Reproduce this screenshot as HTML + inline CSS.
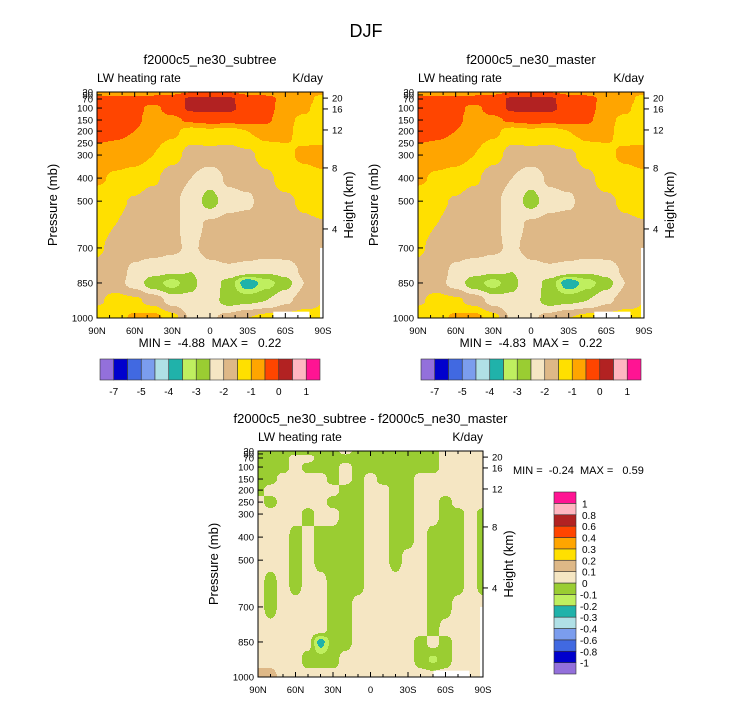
<!DOCTYPE html>
<html><head><meta charset="utf-8"><style>
body{margin:0;background:#fff;}
svg text{font-family:"Liberation Sans",sans-serif;fill:#000;white-space:pre;}
</style></head><body>
<svg id="svg" width="733" height="701" viewBox="0 0 733 701" xmlns="http://www.w3.org/2000/svg">
<rect width="733" height="701" fill="#fff"/>
<text x="366" y="37" font-size="18" text-anchor="middle">DJF</text>
</svg>
<script>
// ---- data ----
const lats13 = [90,75,60,45,30,15,0,-15,-30,-45,-60,-75,-90];
const levelsTop = [30,70,100,150,200,300,400,500,600,700,800,850,925,1000];
const subtreeField = [
[-0.7,-0.7,-0.7,-0.7,-0.6,-0.5,-0.5,-0.5,-0.6,-0.7,-0.7,-0.8,-0.9],
[-0.3,-0.3,-0.3,-0.3,-0.3,0.1,0.15,0.1,-0.3,-0.3,-0.7,-0.8,-1.2],
[-0.3,-0.3,-0.4,-0.6,-0.3,0.1,0.1,0.1,-0.2,-0.3,-0.8,-0.9,-1.3],
[-0.3,-0.3,-0.4,-0.7,-0.6,-0.4,-0.3,-0.3,-0.3,-0.4,-0.9,-1.1,-1.2],
[-0.3,-0.4,-0.5,-0.8,-0.9,-1.2,-1.1,-1.2,-1.0,-0.8,-0.9,-1.2,-1.3],
[-0.7,-0.7,-0.8,-1.0,-1.3,-1.7,-1.7,-1.7,-1.6,-1.3,-1.1,-0.9,-0.8],
[-0.9,-1.1,-1.2,-1.4,-1.8,-2.0,-2.3,-1.9,-1.8,-1.6,-1.3,-1.2,-1.1],
[-1.3,-1.4,-1.55,-1.8,-1.9,-2.2,-2.7,-2.2,-2.1,-1.7,-1.6,-1.4,-1.2],
[-1.4,-1.5,-1.7,-1.8,-1.9,-2.2,-1.9,-1.8,-1.8,-1.7,-1.7,-1.6,-1.55],
[-1.45,-1.6,-1.8,-1.8,-1.9,-2.1,-1.8,-1.7,-1.7,-1.7,-1.7,-1.7,-1.6],
[-1.6,-1.8,-2.1,-2.3,-2.4,-2.5,-2.2,-2.1,-2.2,-2.4,-2.3,-1.9,-1.7],
[-1.7,-1.8,-2.2,-2.8,-3.2,-2.6,-2.2,-2.7,-3.9,-3.2,-2.7,-2.0,-1.7],
[-1.6,-1.3,-1.4,-1.7,-2.2,-2.4,-2.3,-2.7,-2.6,-2.5,-2.1,-1.8,-1.5],
[-1.1,-1.2,-0.9,-0.8,-1.3,-2.1,-2.1,-1.8,-1.5,-1.3,-1.3,-1.2,-1.4]];
const masterField = subtreeField;
const topBounds = [-7,-6,-5,-4.5,-4,-3.5,-3,-2.5,-2,-1.5,-1,-0.5,0,0.5,1];
const topBarLabels = ["-7","","-5","","-4","","-3","","-2","","-1","","0","","1"];
const lats19 = [90,80,70,60,50,40,30,20,10,0,-10,-20,-30,-40,-50,-60,-70,-80,-90];
const levelsDiff = [30,70,100,150,200,250,300,400,500,600,700,800,850,925,1000];
const G=-0.05, W=0.05;
const diffField = [
[G,G,G,G,G,G,G,W,G,G,G,G,G,G,G,W,W,W,W],
[G,G,G,W,W,G,G,G,G,G,G,G,G,G,G,W,W,W,W],
[G,G,G,W,G,G,G,W,G,G,G,G,G,G,G,W,W,W,W],
[G,G,W,W,W,W,G,W,G,W,G,G,G,W,W,W,W,W,W],
[G,W,W,W,W,W,W,G,G,W,W,G,G,W,W,W,W,W,W],
[W,G,W,W,W,W,G,G,G,W,W,G,G,W,W,G,W,W,W],
[W,W,W,W,G,W,W,G,G,W,W,G,G,W,W,G,G,W,G],
[W,W,W,G,W,G,G,G,G,W,W,G,G,W,G,G,G,W,G],
[W,W,W,G,W,G,G,G,G,W,W,G,W,W,G,G,G,W,G],
[W,G,W,G,W,W,G,G,G,W,W,W,W,W,G,G,G,W,G],
[W,G,W,W,W,W,G,G,W,W,W,W,W,W,G,G,W,W,W],
[W,W,W,W,W,W,G,G,W,W,W,W,W,W,G,W,W,W,W],
[W,W,W,W,W,-0.25,G,G,W,W,W,W,W,G,W,G,W,W,W],
[W,W,W,W,G,G,G,W,W,W,W,W,W,G,-0.12,G,W,W,W],
[0.15,0.15,W,W,W,W,W,W,W,W,W,W,W,W,W,W,W,W,W]];
const diffBounds = [-1,-0.8,-0.6,-0.4,-0.3,-0.2,-0.1,0,0.1,0.2,0.3,0.4,0.6,0.8,1];
const diffBarLabels = ["-1","-0.8","-0.6","-0.4","-0.3","-0.2","-0.1","0","0.1","0.2","0.3","0.4","0.6","0.8","1"];
const palette = ["#9370DB","#0000CD","#4169E1","#7B9DEE","#B0E0E6","#20B2AA","#BFEF5F","#9ACD32","#F5E6C3","#DEB887","#FFE000","#FFA500","#FF4500","#B22222","#FFB6C1","#FF1493"];
const pTicks = [30,50,70,100,150,200,250,300,400,500,700,850,1000];
const pFrac = [0,0.013,0.031,0.071,0.124,0.173,0.226,0.279,0.381,0.483,0.69,0.845,1];
const kmTicks = [20,16,12,8,4];
const kmFrac = [0.027,0.075,0.168,0.336,0.606];
const latTickLabels = ["90N","60N","30N","0","30S","60S","90S"];

// ---- helpers ----
const NS="http://www.w3.org/2000/svg";
const svg=document.getElementById('svg');
function mk(tag,attrs,parent){const e=document.createElementNS(NS,tag);for(const k in attrs)e.setAttribute(k,attrs[k]);(parent||svg).appendChild(e);return e;}
function pToFrac(p){
  if(p<=pTicks[0])return 0;
  for(let i=1;i<pTicks.length;i++){if(p<=pTicks[i]){const t=(p-pTicks[i-1])/(pTicks[i]-pTicks[i-1]);return pFrac[i-1]+t*(pFrac[i]-pFrac[i-1]);}}
  return 1;
}
function latToFrac(l){return (90-l)/180;}
function classify(v,b){let i=0;while(i<b.length&&v>=b[i])i++;return i;}
function sample(field,lats,levels,fx,fy){
  const lfr=lats.map(latToFrac), pfr=levels.map(pToFrac);
  let i=0;while(i<lfr.length-2&&fx>lfr[i+1])i++;
  let j=0;while(j<pfr.length-2&&fy>pfr[j+1])j++;
  let tx=Math.min(1,Math.max(0,(fx-lfr[i])/(lfr[i+1]-lfr[i])));
  let ty=Math.min(1,Math.max(0,(fy-pfr[j])/(pfr[j+1]-pfr[j])));
  tx=tx*tx*(3-2*tx); ty=ty*ty*(3-2*ty);
  const a=field[j][i],b=field[j][i+1],c=field[j+1][i],d=field[j+1][i+1];
  return (a*(1-tx)+b*tx)*(1-ty)+(c*(1-tx)+d*tx)*ty;
}
function txt(s,x,y,size,anchor,name,extra){const t=mk('text',Object.assign({x:x,y:y,'font-size':size,'text-anchor':anchor||'start'},extra||{}));t.textContent=s;return t;}

function panel(name,x0,y0,w,h,field,lats,levels,bounds,title){
  const g=mk('g',{});
  
  
  const step=1;
  for(let py=0;py<h;py+=step){
    let runStart=0,runC=-1;
    for(let px=0;px<=w;px++){
      let c=-2;
      if(px<w){c=classify(sample(field,lats,levels,(px+0.5)/w,(py+step/2)/h),bounds);}
      if(c!==runC){
        if(runC>=0){const r=mk('rect',{x:x0+runStart,y:y0+py,width:px-runStart,height:step+0.4,fill:palette[runC]},g);
          
          }
        runStart=px;runC=c;
      }
    }
  }
  mk('rect',{x:x0+w*0.78,y:y0+h*0.972,width:w*0.16,height:h*0.028+0.5,fill:'#fff'},g);
  mk('rect',{x:x0+w*0.987,y:y0+h*0.69,width:w*0.013,height:h*0.31,fill:'#fff'},g);
  const fr=mk('rect',{x:x0,y:y0,width:w,height:h,fill:'none',stroke:'#000','stroke-width':1},g);
  
  pTicks.forEach((p,i)=>{const y=y0+pFrac[i]*h;
    mk('line',{x1:x0,x2:x0+5,y1:y,y2:y,stroke:'#000'},g);
    txt(String(p),x0-4,y+3.5,9.5,'end','pressure-tick-label');});
  kmTicks.forEach((k,i)=>{const y=y0+kmFrac[i]*h;
    mk('line',{x1:x0+w,x2:x0+w+5,y1:y,y2:y,stroke:'#000'},g);
    txt(String(k),x0+w+9,y+3.5,9.5,'start','height-tick-label');});
  latTickLabels.forEach((l,i)=>{const x=x0+i*w/6;
    mk('line',{x1:x,x2:x,y1:y0+h,y2:y0+h-5,stroke:'#000'},g);
    mk('line',{x1:x,x2:x,y1:y0,y2:y0+5,stroke:'#000'},g);
    txt(l,x,y0+h+16,9.5,'middle','lat-tick-label');});
  for(let l=80;l>-90;l-=10){if(l%30===0)continue;const x=x0+latToFrac(l)*w;
    mk('line',{x1:x,x2:x,y1:y0+h,y2:y0+h-3,stroke:'#000'},g);mk('line',{x1:x,x2:x,y1:y0,y2:y0+3,stroke:'#000'},g);}
  txt(title,x0+w/2,y0-28,13,'middle','panel-title');
  txt('LW heating rate',x0,y0-10,12,'start','variable-label');
  txt('K/day',x0+w,y0-10,12,'end','units-label');
  txt('Pressure (mb)',0,0,13,'middle','y-axis-title',{transform:`translate(${x0-40},${y0+h/2}) rotate(-90)`});
  txt('Height (km)',0,0,13,'middle','right-axis-title',{transform:`translate(${x0+w+30},${y0+h/2}) rotate(-90)`});
}
function hbar(x0,y0,w,h,labels){
  const n=palette.length,bw=w/n;
  palette.forEach((c,i)=>{const r=mk('rect',{x:x0+i*bw,y:y0,width:bw,height:h,fill:c,stroke:'#333','stroke-width':0.6});
    });
  labels.forEach((l,i)=>{if(l)txt(l,x0+(i+1)*bw,y0+h+15,10,'middle','colorbar-label');});
}
function vbar(x0,y0,w,h,labels){
  const n=palette.length,bh=h/n;
  palette.forEach((c,i)=>{const r=mk('rect',{x:x0,y:y0+(n-1-i)*bh,width:w,height:bh,fill:c,stroke:'#333','stroke-width':0.6});
    });
  labels.forEach((l,i)=>{txt(l,x0+w+(l[0]==='-'?4:6),y0+(n-1-i)*bh+4,10,'start','colorbar-label');});
}
panel('subtree-panel',97,92,226,226,subtreeField,lats13,levelsTop,topBounds,'f2000c5_ne30_subtree');
panel('master-panel',418,92,226,226,masterField,lats13,levelsTop,topBounds,'f2000c5_ne30_master');
panel('diff-panel',258,451,225,226,diffField,lats19,levelsDiff,diffBounds,'f2000c5_ne30_subtree - f2000c5_ne30_master');
txt('MIN =  -4.88  MAX =   0.22',210,347,12,'middle','subtree-minmax');
txt('MIN =  -4.83  MAX =   0.22',531,347,12,'middle','master-minmax');
txt('MIN =  -0.24  MAX =   0.59',513,474,11,'start','diff-minmax');
hbar(100,359,220,21,topBarLabels);
hbar(421,359,220,21,topBarLabels);
vbar(554,492,22,182,diffBarLabels);
</script>
</body></html>
